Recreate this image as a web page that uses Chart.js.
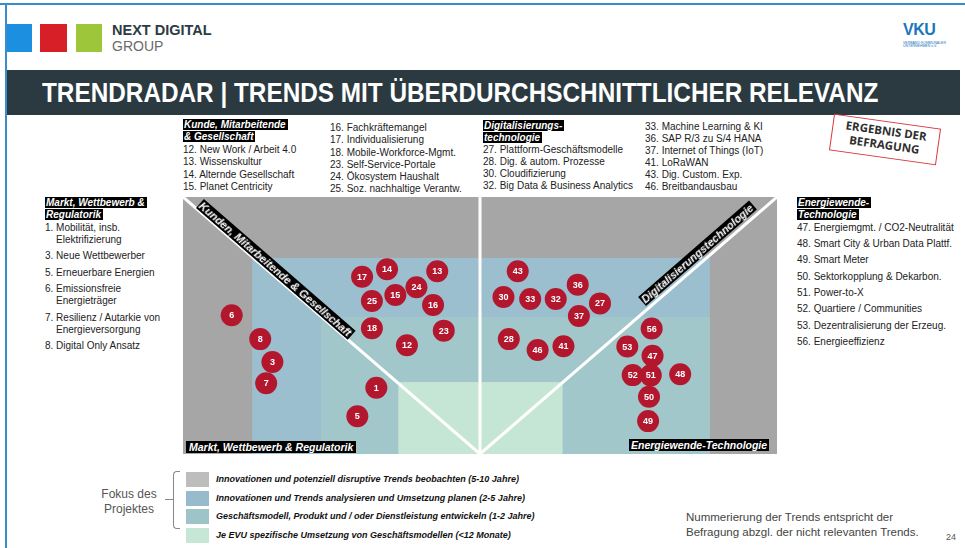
<!DOCTYPE html>
<html lang="de">
<head>
<meta charset="utf-8">
<title>Trendradar</title>
<script src="https://cdn.jsdelivr.net/npm/chart.js@4.4.1/dist/chart.umd.min.js"></script>
<style>
  html, body { margin: 0; padding: 0; background: #fff; }
  body { width: 965px; height: 548px; position: relative; overflow: hidden;
         font-family: "Liberation Sans", Arial, sans-serif; color: #222; }
  .abs { position: absolute; }
  .tag { background: #000; color: #fff; font-weight: bold; font-style: italic; padding: 0 2px 0 1px; }
  .list { font-size: 10px; line-height: 12.3px; color: #222; white-space: nowrap; }
  .hang div { padding-left: 11px; text-indent: -11px; margin-bottom: 4.4px; line-height: 12px; }
  .diag { font-size: 11px; line-height: 12px; height: 12px; white-space: nowrap; transform-origin: 0 100%; }
  .legend-row { position: absolute; left: 186px; height: 15px; }
  .legend-row span.sw { position: absolute; left: 0; top: 0; width: 23px; height: 15px; }
  .legend-row span.tx { position: absolute; left: 30px; top: 1px; font-size: 9px; font-weight: bold;
                        font-style: italic; white-space: nowrap; color: #111; line-height: 13px; }
</style>
</head>
<body>

<!-- frame -->
<div class="abs" style="left:0;top:3px;width:965px;height:2px;background:#3b8ccb"></div>
<div class="abs" style="left:5px;top:3px;width:2px;height:545px;background:#3b8ccb"></div>

<!-- logos -->
<div class="abs" style="left:7px;top:24px;width:25px;height:28px;background:#1c8fe0"></div>
<div class="abs" style="left:40px;top:24px;width:27px;height:28px;background:#d61f26"></div>
<div class="abs" style="left:76px;top:24px;width:26px;height:28px;background:#9dc63b"></div>
<div class="abs" style="left:112px;top:22px;font-size:14.5px;font-weight:bold;color:#2d3b42;line-height:16px">NEXT DIGITAL</div>
<div class="abs" style="left:112px;top:38px;font-size:14px;color:#6b6b6b;line-height:16px">GROUP</div>
<div class="abs" style="left:903px;top:22px;font-size:16px;font-weight:bold;color:#1b76bd;line-height:16px;letter-spacing:-0.5px">VKU</div>
<div class="abs" style="left:903px;top:41px;font-size:5px;color:#1b76bd;line-height:5px;transform:scale(0.7);transform-origin:0 0;white-space:nowrap">VERBAND KOMMUNALER<br>UNTERNEHMEN e.V.</div>

<!-- title bar -->
<div class="abs" style="left:7px;top:70px;width:953px;height:45px;background:#2b3a40"></div>
<div id="title" class="abs" style="left:42px;top:77px;font-size:28px;line-height:32px;font-weight:bold;color:#fff;white-space:nowrap;transform-origin:0 0;font-family:'Liberation Sans Narrow','Liberation Sans',Arial,sans-serif">TRENDRADAR | TRENDS MIT ÜBERDURCHSCHNITTLICHER RELEVANZ</div>

<!-- top lists -->
<div class="abs list" style="left:183px;top:119px;line-height:12px;font-size:10px"><span class="tag">Kunde, Mitarbeitende</span><br><span class="tag">&amp; Gesellschaft</span></div>
<div class="abs list" style="left:183px;top:144px">12. New Work / Arbeit 4.0<br>13. Wissenskultur<br>14. Alternde Gesellschaft<br>15. Planet Centricity</div>
<div class="abs list" style="left:330px;top:122px">16. Fachkräftemangel<br>17. Individualisierung<br>18. Mobile-Workforce-Mgmt.<br>23. Self-Service-Portale<br>24. Ökosystem Haushalt<br>25. Soz. nachhaltige Verantw.</div>
<div class="abs list" style="left:483px;top:120px;line-height:12px"><span class="tag">Digitalisierungs-</span><br><span class="tag">technologie</span></div>
<div class="abs list" style="left:483px;top:143.5px">27. Plattform-Geschäftsmodelle<br>28. Dig. &amp; autom. Prozesse<br>30. Cloudifizierung<br>32. Big Data &amp; Business Analytics</div>
<div class="abs list" style="left:645px;top:121px;line-height:12.1px">33. Machine Learning &amp; KI<br>36. SAP R/3 zu S/4 HANA<br>37. Internet of Things (IoT)<br>41. LoRaWAN<br>43. Dig. Custom. Exp.<br>46. Breitbandausbau</div>

<!-- stamp -->
<div class="abs" style="left:831px;top:121px;width:106px;height:33px;border:1.5px solid #d7393f;transform:rotate(8deg);text-align:center;font-family:'Open Sans',sans-serif;font-weight:bold;font-size:11.5px;line-height:14px;color:#2f2f2f;padding-top:2px;box-sizing:content-box">ERGEBNIS DER<br>BEFRAGUNG</div>

<!-- side lists -->
<div class="abs list" style="left:45px;top:197px;line-height:12px"><span class="tag">Markt, Wettbewerb &amp;</span><br><span class="tag">Regulatorik</span></div>
<div class="abs list hang" style="left:45px;top:222px">
  <div>1. Mobilität, insb.<br>Elektrifizierung</div>
  <div>3. Neue Wettbewerber</div>
  <div>5. Erneuerbare Energien</div>
  <div>6. Emissionsfreie<br>Energieträger</div>
  <div>7. Resilienz / Autarkie von<br>Energieversorgung</div>
  <div>8. Digital Only Ansatz</div>
</div>
<div class="abs list" style="left:797px;top:197px;line-height:12px"><span class="tag">Energiewende-</span><br><span class="tag">Technologie</span></div>
<div class="abs list hang" style="left:797px;top:221.5px">
  <div>47. Energiemgmt. / CO2-Neutralität</div>
  <div>48. Smart City &amp; Urban Data Plattf.</div>
  <div>49. Smart Meter</div>
  <div>50. Sektorkopplung &amp; Dekarbon.</div>
  <div>51. Power-to-X</div>
  <div>52. Quartiere / Communities</div>
  <div>53. Dezentralisierung der Erzeug.</div>
  <div>56. Energieeffizienz</div>
</div>

<!-- radar -->
<div class="abs" style="left:183px;top:197px;width:594px;height:257px">
  <canvas id="radar"></canvas>
</div>

<!-- segment labels -->
<div class="abs diag tag" style="left:196px;top:196px;transform:rotate(41deg)">Kunden, Mitarbeitende &amp; Gesellschaft</div>
<div class="abs diag tag" style="left:646px;top:294px;transform:rotate(-41deg)">Digitalisierungstechnologie</div>
<div class="abs diag tag" style="left:186px;top:441px;font-size:10.5px;padding:0 3px">Markt, Wettbewerb &amp; Regulatorik</div>
<div class="abs diag tag" style="left:629px;top:439px;font-size:10.5px;padding:0 2px">Energiewende-Technologie</div>

<!-- legend -->
<div class="abs" style="left:100px;top:487px;width:58px;font-size:12px;line-height:15px;color:#555;text-align:center">Fokus des<br>Projektes</div>
<div class="abs" style="left:173px;top:471px;width:6px;height:56px;border:1px solid #888;border-right:none;border-radius:4px 0 0 4px"></div>
<div class="abs" style="left:165px;top:499px;width:8px;height:1px;background:#888"></div>
<div id="legend"></div>

<!-- notes -->
<div class="abs" style="left:686px;top:510px;font-size:11.5px;line-height:15px;color:#444;white-space:nowrap">Nummerierung der Trends entspricht der<br>Befragung abzgl. der nicht relevanten Trends.</div>
<div class="abs" style="left:946px;top:532px;font-size:9px;color:#555">24</div>

<script>
// Trend bubbles: x = left(-) / right(+) of the centre line, y = height above the bottom edge
const trendIds = [1, 3, 5, 6, 7, 8, 12, 13, 14, 15, 16, 17, 18, 23, 24, 25,
                  27, 28, 30, 32, 33, 36, 37, 41, 43, 46,
                  47, 48, 49, 50, 51, 52, 53, 56];
const trendX = [-34.9, -69.9, -41.3, -83.6, -72.0, -74.0, -24.6, -14.4, -31.3, -28.5, -15.8, -39.7, -36.4, -12.2, -21.4, -36.4,
                40.4, 9.7, 7.9, 25.5, 16.9, 32.9, 33.3, 28.1, 12.7, 19.4,
                58.1, 67.4, 56.6, 56.9, 57.5, 51.4, 49.6, 57.8];
const trendY = [25.8, 35.8, 14.7, 54.0, 27.5, 44.7, 42.3, 71.1, 71.9, 61.9, 58.0, 69.0, 48.9, 48.0, 64.9, 59.5,
                58.6, 44.7, 61.1, 60.3, 60.3, 65.9, 53.7, 41.9, 71.1, 40.5,
                38.2, 31.0, 12.8, 22.3, 30.6, 30.7, 41.8, 48.8];

// Focus zones (outer to inner)
const zoneLabels = [
    'Innovationen und potenziell disruptive Trends beobachten (5-10 Jahre)',
    'Innovationen und Trends analysieren und Umsetzung planen (2-5 Jahre)',
    'Geschäftsmodell, Produkt und / oder Dienstleistung entwickeln (1-2 Jahre)',
    'Je EVU spezifische Umsetzung von Geschäftsmodellen (<12 Monate)'
];
const zoneLeft = [-100, -76.7, -53.5, -27.5];
const zoneRight = [100, 77.4, 77.4, 27.8];
const zoneTop = [100, 76.3, 53.3, 28.0];

const zoneColors = ['#a6a6a6', '#9cbfcf', '#a1c7cb', '#c6e6d5'];
const legendColors = ['#bdbdbd', '#98bacd', '#9dc4c7', '#c6e7d5'];

// Legend
const legend = document.getElementById('legend');
zoneLabels.forEach((label, i) => {
    const row = document.createElement('div');
    row.className = 'legend-row';
    row.style.top = (472 + i * 18.6) + 'px';
    row.innerHTML = `<span class="sw" style="background:${legendColors[i]}"></span><span class="tx"></span>`;
    row.querySelector('.tx').textContent = label;
    legend.appendChild(row);
});

// Squeeze the title to the slide width
const title = document.getElementById('title');
title.style.transform = `scaleX(${836 / title.scrollWidth})`;

const zonePlugin = {
    id: 'zones',
    beforeDatasetsDraw(chart) {
        const { ctx, scales: { x, y } } = chart;
        ctx.save();
        zoneTop.forEach((top, i) => {
            const x0 = x.getPixelForValue(zoneLeft[i]);
            const x1 = x.getPixelForValue(zoneRight[i]);
            const y0 = y.getPixelForValue(top);
            const y1 = y.getPixelForValue(0);
            ctx.fillStyle = zoneColors[i];
            ctx.fillRect(x0, y0, x1 - x0, y1 - y0);
        });
        // white separators
        ctx.strokeStyle = '#ffffff';
        ctx.lineWidth = 3;
        ctx.beginPath();
        ctx.moveTo(x.getPixelForValue(-100), y.getPixelForValue(100));
        ctx.lineTo(x.getPixelForValue(0), y.getPixelForValue(0));
        ctx.lineTo(x.getPixelForValue(100), y.getPixelForValue(100));
        ctx.moveTo(x.getPixelForValue(0), y.getPixelForValue(0));
        ctx.lineTo(x.getPixelForValue(0), y.getPixelForValue(100));
        ctx.stroke();
        ctx.restore();
    }
};

const numberPlugin = {
    id: 'numbers',
    afterDatasetsDraw(chart) {
        const { ctx } = chart;
        const meta = chart.getDatasetMeta(0);
        ctx.save();
        ctx.fillStyle = '#ffffff';
        ctx.font = 'bold 9px "Liberation Sans", Arial, sans-serif';
        ctx.textAlign = 'center';
        ctx.textBaseline = 'middle';
        meta.data.forEach((pt, i) => {
            ctx.fillText(String(trendIds[i]), pt.x, pt.y + 0.5);
        });
        ctx.restore();
    }
};

new Chart(document.getElementById('radar'), {
    type: 'scatter',
    data: {
        datasets: [{
            data: trendIds.map((id, i) => ({ x: trendX[i], y: trendY[i] })),
            backgroundColor: '#b2172d',
            borderWidth: 0,
            pointRadius: 11,
            pointHoverRadius: 11,
            clip: false
        }]
    },
    options: {
        responsive: true,
        maintainAspectRatio: false,
        animation: false,
        events: [],
        layout: { padding: 0, autoPadding: false },
        plugins: {
            legend: { display: false },
            tooltip: { enabled: false }
        },
        scales: {
            x: { type: 'linear', min: -100, max: 100, display: false },
            y: { type: 'linear', min: 0, max: 100, display: false }
        }
    },
    plugins: [zonePlugin, numberPlugin]
});
</script>
</body>
</html>
